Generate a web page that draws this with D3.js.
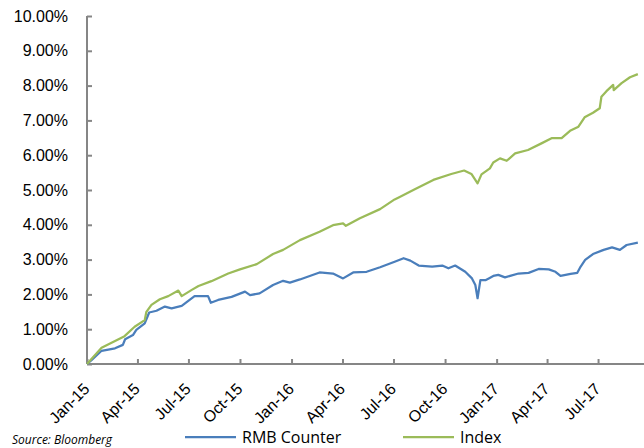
<!DOCTYPE html>
<html>
<head>
<meta charset="utf-8">
<script src="https://cdn.jsdelivr.net/npm/d3@7"></script>
<style>
  body { margin: 0; background: #fff; }
  svg { display: block; font-family: "Open Sans", "Liberation Sans", sans-serif; }
  .axis path, .axis line { stroke: #868686; stroke-width: 2; }
  .axis text { fill: #000; font-size: 16px; }
</style>
</head>
<body>
<svg width="644" height="448"></svg>
<script>
// cumulative return, %
const rmbCounter = [
  ['2015-01-01', 0.00], ['2015-01-09', 0.11], ['2015-01-27', 0.38], ['2015-02-20', 0.45],
  ['2015-03-06', 0.55], ['2015-03-10', 0.71], ['2015-03-24', 0.83], ['2015-03-30', 0.98],
  ['2015-04-14', 1.17], ['2015-04-22', 1.48], ['2015-05-05', 1.53], ['2015-05-20', 1.65],
  ['2015-06-01', 1.60], ['2015-06-19', 1.67], ['2015-07-12', 1.95], ['2015-08-05', 1.95],
  ['2015-08-10', 1.76], ['2015-08-23', 1.84], ['2015-09-16', 1.93], ['2015-10-10', 2.08],
  ['2015-10-19', 1.98], ['2015-11-05', 2.03], ['2015-11-29', 2.27], ['2015-12-17', 2.39],
  ['2015-12-29', 2.34], ['2016-01-16', 2.43], ['2016-02-20', 2.63], ['2016-03-15', 2.60],
  ['2016-04-02', 2.46], ['2016-04-20', 2.63], ['2016-05-14', 2.65], ['2016-06-07', 2.78],
  ['2016-07-03', 2.94], ['2016-07-19', 3.04], ['2016-07-31', 2.97], ['2016-08-15', 2.83],
  ['2016-09-08', 2.80], ['2016-09-26', 2.83], ['2016-10-07', 2.75], ['2016-10-19', 2.83],
  ['2016-11-06', 2.65], ['2016-11-18', 2.46], ['2016-11-24', 2.27], ['2016-11-28', 1.89],
  ['2016-12-03', 2.41], ['2016-12-12', 2.41], ['2016-12-18', 2.46], ['2016-12-26', 2.53],
  ['2017-01-04', 2.56], ['2017-01-16', 2.49], ['2017-02-09', 2.60], ['2017-02-27', 2.62],
  ['2017-03-17', 2.73], ['2017-04-04', 2.72], ['2017-04-16', 2.65], ['2017-04-25', 2.53],
  ['2017-05-13', 2.59], ['2017-05-25', 2.62], ['2017-05-31', 2.80], ['2017-06-08', 2.99],
  ['2017-06-22', 3.16], ['2017-07-11', 3.28], ['2017-07-26', 3.35], ['2017-08-09', 3.28],
  ['2017-08-21', 3.42], ['2017-09-10', 3.49]
];

const indexSeries = [
  ['2015-01-01', 0.00], ['2015-01-27', 0.47], ['2015-03-09', 0.80], ['2015-03-27', 1.07],
  ['2015-04-14', 1.26], ['2015-04-17', 1.50], ['2015-04-26', 1.70], ['2015-05-11', 1.86],
  ['2015-05-26', 1.95], ['2015-06-13', 2.11], ['2015-06-19', 1.95], ['2015-07-07', 2.13],
  ['2015-07-19', 2.24], ['2015-08-11', 2.38], ['2015-09-10', 2.60], ['2015-10-01', 2.72],
  ['2015-10-31', 2.87], ['2015-11-29', 3.16], ['2015-12-17', 3.28], ['2016-01-16', 3.56],
  ['2016-02-20', 3.80], ['2016-03-15', 3.99], ['2016-04-02', 4.04], ['2016-04-07', 3.97],
  ['2016-05-02', 4.19], ['2016-06-07', 4.45], ['2016-07-03', 4.73], ['2016-07-12', 4.80],
  ['2016-08-08', 5.02], ['2016-09-10', 5.29], ['2016-10-12', 5.46], ['2016-11-04', 5.56],
  ['2016-11-17', 5.46], ['2016-11-28', 5.19], ['2016-12-05', 5.45], ['2016-12-20', 5.62],
  ['2016-12-26', 5.79], ['2017-01-07', 5.91], ['2017-01-19', 5.84], ['2017-02-03', 6.05],
  ['2017-02-26', 6.15], ['2017-03-22', 6.34], ['2017-04-09', 6.49], ['2017-04-27', 6.49],
  ['2017-05-12', 6.70], ['2017-05-27', 6.82], ['2017-06-07', 7.09], ['2017-06-22', 7.22],
  ['2017-07-04', 7.35], ['2017-07-07', 7.68], ['2017-07-16', 7.84], ['2017-07-28', 8.02],
  ['2017-07-29', 7.87], ['2017-08-12', 8.07], ['2017-08-27', 8.24], ['2017-09-10', 8.33]
];

const yTicks = [0, 1, 2, 3, 4, 5, 6, 7, 8, 9, 10];
const legendItems = [
  { name: 'RMB Counter', color: '#4A7EBB', data: rmbCounter },
  { name: 'Index', color: '#9BBB59', data: indexSeries }
];

const svg = d3.select('svg');
const margin = { top: 16, right: 0, bottom: 84, left: 87 };
const width = +svg.attr('width') - margin.left - margin.right;
const height = +svg.attr('height') - margin.top - margin.bottom;
const parse = d3.utcParse('%Y-%m-%d');

const x = d3.scaleUtc()
  .domain([parse('2015-01-01'), parse('2017-09-21')])
  .range([0, width]);

const y = d3.scaleLinear()
  .domain([0, 10])
  .range([height, 0]);

const g = svg.append('g').attr('transform', `translate(${margin.left},${margin.top})`);

// axes (ticks point inward like the original)
g.append('g')
  .attr('class', 'axis y-axis')
  .call(d3.axisLeft(y).tickValues(yTicks).tickSize(-5).tickPadding(19)
    .tickFormat(d => d.toFixed(2) + '%'))
  .call(a => a.select('.domain').attr('d', `M0,${height}V0`));

const xAxis = g.append('g')
  .attr('class', 'axis x-axis')
  .attr('transform', `translate(0,${height})`)
  .call(d3.axisBottom(x).ticks(d3.utcMonth.every(3)).tickSize(-5)
    .tickFormat(d3.utcFormat('%b-%y')))
  .call(a => a.select('.domain').attr('d', `M0,0H${width}`));

xAxis.selectAll('text')
  .attr('text-anchor', 'end')
  .attr('dy', '0.35em')
  .attr('transform', 'translate(-1,22) rotate(-45)')
  .attr('y', 0);

// lines
const line = d3.line()
  .x(d => x(parse(d[0])))
  .y(d => y(d[1]));

legendItems.forEach(s => {
  g.append('path')
    .datum(s.data)
    .attr('fill', 'none')
    .attr('stroke', s.color)
    .attr('stroke-width', 2.25)
    .attr('stroke-linejoin', 'round')
    .attr('d', line);
});

// legend
const legend = svg.append('g').attr('transform', 'translate(185,437)');
legendItems.forEach((s, i) => {
  const lg = legend.append('g').attr('transform', `translate(${i * 218},0)`);
  lg.append('line').attr('x1', 0).attr('x2', 51).attr('stroke', s.color).attr('stroke-width', 2.25);
  lg.append('text').attr('x', 57).attr('dy', '0.35em')
    .style('font-size', '16px').style('fill', '#000').text(s.name);
});

svg.append('text')
  .attr('x', 12).attr('y', 444)
  .style('font-size', '12px').style('font-style', 'italic').style('fill', '#000')
  .text('Source: Bloomberg');
</script>
</body>
</html>
